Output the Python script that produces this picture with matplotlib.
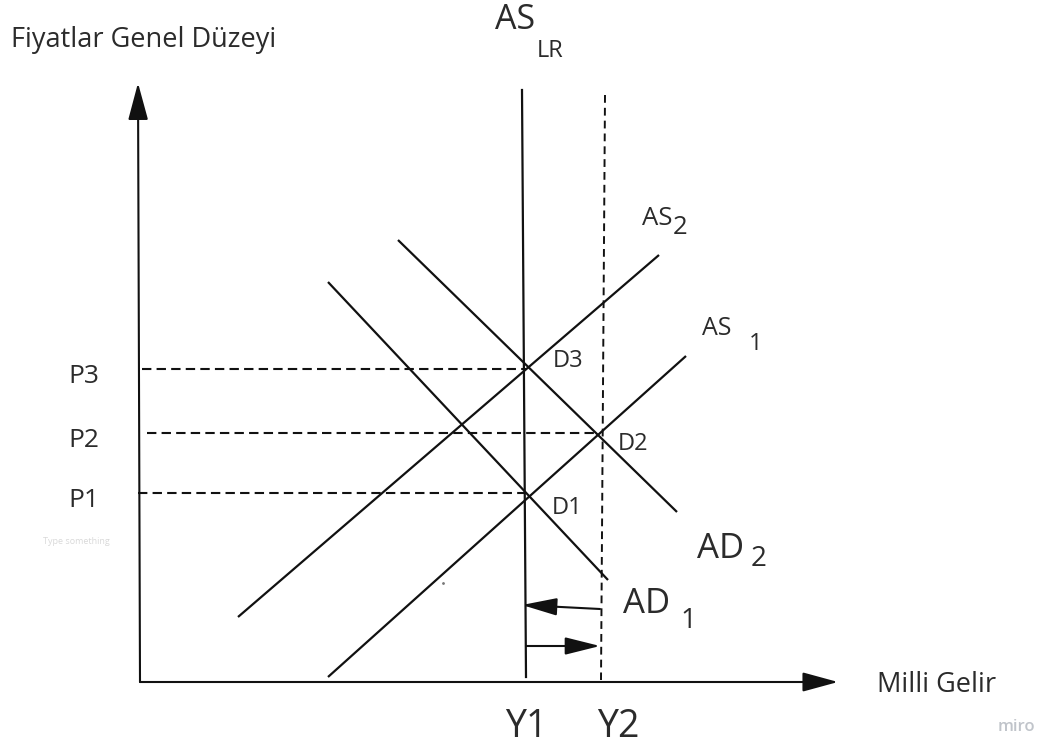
import matplotlib
matplotlib.use('Agg')
import matplotlib.pyplot as plt

# ---- diagram geometry (pixel units, y grows downward) ----
ORIGIN = (140, 682)
Y_AXIS_TIP = 83
X_AXIS_TIP = 838

AS_LR_X = [522, 526]
AS_LR_Y = [90, 677]
Y2_X = [605, 601]
Y2_Y = [95, 680]

AS1_X = [328, 686]
AS1_Y = [677, 356]
AS2_X = [238, 659]
AS2_Y = [617, 255]
AD1_X = [328, 608]
AD1_Y = [282, 580]
AD2_X = [398, 677]
AD2_Y = [240, 512]

P_LABELS = ['P1', 'P2', 'P3']
P_LEVELS = [493, 433, 369]
P_STARTS = [138, 147, 142]
P_ENDS = [527, 597, 527]

D_LABELS = ['D1', 'D2', 'D3']
D_POS = [(552, 514), (618, 450), (553, 367)]

SHIFT_LEFT = [(600, 609), (522, 605)]
SHIFT_RIGHT = [(526, 646), (600, 646)]

INK = '#111111'
TXT = '#2b2b2b'
FONT = ['Open Sans', 'DejaVu Sans']

fig = plt.figure(figsize=(10.49, 7.47), dpi=100)
ax = fig.add_axes([0, 0, 1, 1])
ax.set_xlim(0, 1049)
ax.set_ylim(747, 0)
ax.axis('off')


def arrow(p0, p1, hl, hw, lw=1.5):
    ax.annotate('', xy=p1, xytext=p0,
                arrowprops=dict(arrowstyle=f'-|>,head_length={hl},head_width={hw}',
                                mutation_scale=20, color=INK, lw=lw,
                                shrinkA=0, shrinkB=0))


def label(x, y, s, size, color=TXT, weight='normal'):
    ax.text(x, y, s, fontsize=size, color=color, ha='left', va='baseline',
            family=FONT, fontweight=weight)


# axes
arrow((ORIGIN[0], ORIGIN[1]), (ORIGIN[0] - 2, Y_AXIS_TIP), 1.15, 0.31)
arrow((ORIGIN[0], ORIGIN[1]), (X_AXIS_TIP, ORIGIN[1]), 1.1, 0.3)

# curves
ax.plot(AS_LR_X, AS_LR_Y, color=INK, lw=1.6)
ax.plot(Y2_X, Y2_Y, color=INK, lw=1.4, ls=(0, (4, 2.6)))
for xs, ys in [(AS1_X, AS1_Y), (AS2_X, AS2_Y), (AD1_X, AD1_Y), (AD2_X, AD2_Y)]:
    ax.plot(xs, ys, color=INK, lw=1.6, solid_capstyle='butt')

# price levels
for lab, y, x0, x1 in zip(P_LABELS, P_LEVELS, P_STARTS, P_ENDS):
    ax.plot([x0, x1], [y, y], color=INK, lw=1.5, ls=(0, (4.5, 2.5)))
    label(68, y + 14, lab, 19)

for lab, (x, y) in zip(D_LABELS, D_POS):
    label(x, y, lab, 17)

# shift arrows
arrow(SHIFT_LEFT[0], SHIFT_LEFT[1], 1.08, 0.27)
arrow(SHIFT_RIGHT[0], SHIFT_RIGHT[1], 1.08, 0.27)

# labels
label(11, 47, 'Fiyatlar Genel Düzeyi', 19.5)
label(495, 29, 'AS', 24.5)
label(537, 57, 'LR', 17)
label(642, 225, 'AS', 18.5)
label(673, 234, '2', 18.5)
label(702, 335, 'AS', 18)
label(749, 350, '1', 17)
label(697, 558, 'AD', 25)
label(751, 566, '2', 20)
label(623, 613, 'AD', 25)
label(680, 628, '1', 20)
label(505, 737, 'Y1', 27)
label(597, 737, 'Y2', 27)
label(877, 692, 'Milli Gelir', 19.5)
label(998, 731, 'miro', 12, color='#c0c4ca', weight='semibold')
label(43, 544, 'Type something', 6.5, color='#d9d9d9')
ax.plot([443], [583], marker='.', ms=2, color='#777777')

fig.savefig('out.png', dpi=100)
